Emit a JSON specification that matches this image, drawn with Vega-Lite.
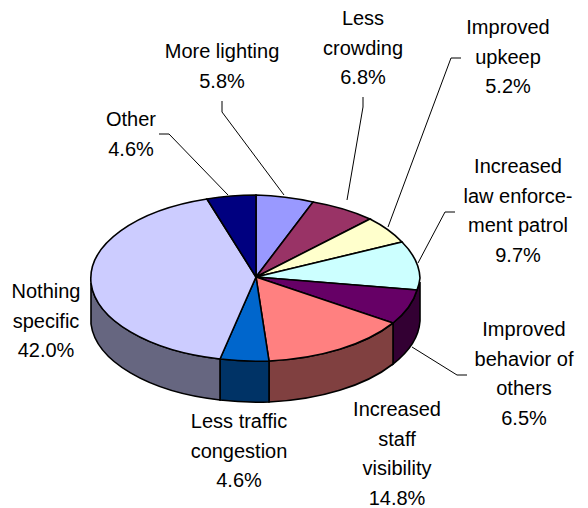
{
 "$schema":"https://vega.github.io/schema/vega-lite/v6.json",
 "width":588,"height":508,"padding":0,"autosize":{"type":"none"},
 "background":"white","config":{"view":{"stroke":null}},
 "data":{"values":[
  {"order":1,"slice":"More lighting","share":5.8,"label":"More lighting\n5.8%"},
  {"order":2,"slice":"Less crowding","share":6.8,"label":"Less\ncrowding\n6.8%"},
  {"order":3,"slice":"Improved upkeep","share":5.2,"label":"Improved\nupkeep\n5.2%"},
  {"order":4,"slice":"Increased law enforcement patrol","share":9.7,"label":"Increased\nlaw enforce-\nment patrol\n9.7%"},
  {"order":5,"slice":"Improved behavior of others","share":6.5,"label":"Improved\nbehavior of\nothers\n6.5%"},
  {"order":6,"slice":"Increased staff visibility","share":14.8,"label":"Increased\nstaff\nvisibility\n14.8%"},
  {"order":7,"slice":"Less traffic congestion","share":4.6,"label":"Less traffic\ncongestion\n4.6%"},
  {"order":8,"slice":"Nothing specific","share":42.0,"label":"Nothing\nspecific\n42.0%"},
  {"order":9,"slice":"Other","share":4.6,"label":"Other\n4.6%"}
 ]},
 "resolve":{"scale":{"shape":"independent","fill":"independent"}},
 "layer":[
  {"transform":[{"filter":"datum.order>=5 && datum.order<=8"}],
   "mark":{"type":"point","filled":true,"size":4,"opacity":1,"stroke":"black","strokeWidth":1.6},
   "encoding":{
    "shape":{"field":"order","type":"nominal","legend":null,"scale":{"domain":[5,6,7,8],"range":[
      "M123,36A164.5,83.5,0,0,1,99,69L99,110A164.5,83.5,0,0,0,126,67L126,28Z",
      "M99,69A164.5,83.5,0,0,1,-25,107L-25,148A164.5,83.5,0,0,0,99,110Z",
      "M-25,107A164.5,83.5,0,0,1,-74,105L-74,146A164.5,83.5,0,0,0,-25,148Z",
      "M-74,105A164.5,83.5,0,0,1,-203,29L-203,70A164.5,83.5,0,0,0,-74,146Z"]}},
    "fill":{"field":"order","type":"nominal","legend":null,"scale":{"domain":[5,6,7,8],"range":["#330033","#804040","#003366","#666680"]}}
   }},
  {"mark":{"type":"point","filled":true,"size":4,"opacity":1,"stroke":"black","strokeWidth":1.6},
   "encoding":{
    "shape":{"field":"order","type":"nominal","legend":null,"scale":{"domain":[1,2,3,4,5,6,7,8,9],"range":[
      "M-38,23L-38,-59A164.5,83.5,0,0,1,19,-52Z",
      "M-38,23L19,-52A164.5,83.5,0,0,1,76,-35Z",
      "M-38,23L76,-35A164.5,83.5,0,0,1,108,-12Z",
      "M-38,23L108,-12A164.5,83.5,0,0,1,126,24A164.5,83.5,0,0,1,123,36Z",
      "M-38,23L123,36A164.5,83.5,0,0,1,99,69Z",
      "M-38,23L99,69A164.5,83.5,0,0,1,-25,107Z",
      "M-38,23L-25,107A164.5,83.5,0,0,1,-74,105Z",
      "M-38,23L-74,105A164.5,83.5,0,0,1,-203,29A164.5,83.5,0,0,1,-87,-55Z",
      "M-38,23L-87,-55A164.5,83.5,0,0,1,-38,-59Z"]}},
    "fill":{"field":"order","type":"nominal","legend":null,"scale":{"domain":[1,2,3,4,5,6,7,8,9],"range":["#9999FF","#993366","#FFFFCC","#CCFFFF","#660066","#FF8080","#0066CC","#CCCCFF","#000080"]}}
   }},
  {"transform":[{"filter":"datum.order<=5 || datum.order==9"}],
   "mark":{"type":"point","filled":false,"size":4,"opacity":1,"stroke":"black","strokeWidth":1},
   "encoding":{
    "shape":{"field":"order","type":"nominal","legend":null,"scale":{"domain":[1,2,3,4,5,9],"range":[
      "M-72,-153L-72,-142L-10,-59",
      "M69,-157L69,-147L53,-54",
      "M167,-196L157,-196L94,-27",
      "M161,-42L151,-42L124,9",
      "M173,121L163,121L118,93",
      "M-135,-120L-125,-120L-66,-59"]}}
   }},
  {"mark":{"type":"text","font":"Liberation Sans","fontSize":20,"lineHeight":29.5,"lineBreak":"\n","align":"center","baseline":"alphabetic","color":"black"},
   "encoding":{
    "text":{"field":"label","type":"nominal"},
    "x":{"field":"order","type":"quantitative","axis":null,"scale":{"domain":[1,2,3,4,5,6,7,8,9],"range":[222,363,508,518,524,397,239,46,131],"nice":false,"zero":false}},
    "y":{"field":"order","type":"quantitative","axis":null,"scale":{"domain":[1,2,3,4,5,6,7,8,9],"range":[58,25,34,173,336,416,428,298,126],"nice":false,"zero":false}}
   }}
 ]
}
